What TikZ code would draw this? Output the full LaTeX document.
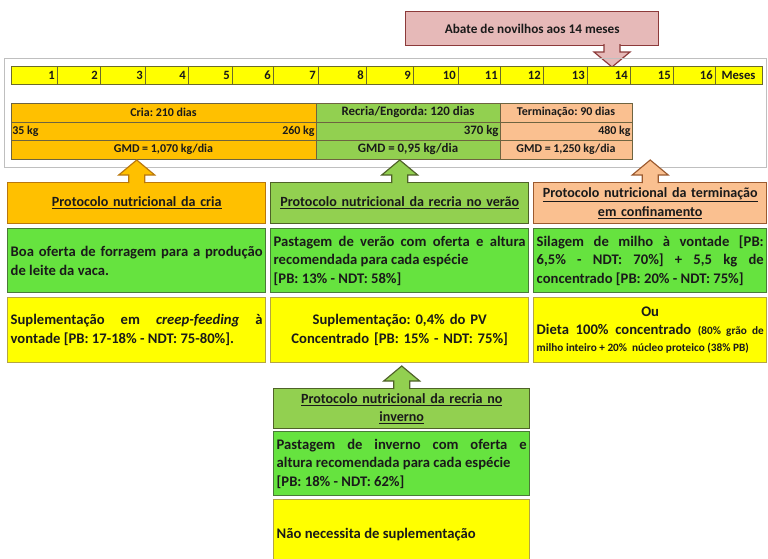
\documentclass[tikz,border=0pt]{standalone}
\usepackage{fontspec}
\setmainfont{Carlito}
\usepackage{tikz}
\definecolor{Ink}{HTML}{1A1A1A}
\definecolor{Yel}{HTML}{FFFF00}
\definecolor{YelLine}{HTML}{B5A642}
\definecolor{BarLine}{HTML}{6B6B2A}
\definecolor{Grass}{HTML}{66E33F}
\definecolor{GrassLine}{HTML}{4A7A38}
\definecolor{Olive}{HTML}{92D050}
\definecolor{OliveLine}{HTML}{4F6228}
\definecolor{Gold}{HTML}{FFC000}
\definecolor{GoldLine}{HTML}{B9770E}
\definecolor{Peach}{HTML}{FAC090}
\definecolor{PeachLine}{HTML}{9B5A2F}
\definecolor{Rose}{HTML}{E6B9B8}
\definecolor{RoseLine}{HTML}{8C3A3A}
\definecolor{Frame}{HTML}{BFBFBF}
\definecolor{CellLine}{HTML}{6E6440}
\hyphenpenalty=10000
\exhyphenpenalty=10000
\frenchspacing
% block arrow on a box: point, fill, border, 1 = up / -1 = down
\newcommand{\callarrow}[4]{%
  \filldraw[fill=#2,draw=#3,line width=1pt]
    (#1) ++(-8,#4) -- ++(0,-8*#4) -- ++(-10,0) -- ++(18,-15*#4)
    -- ++(18,15*#4) -- ++(-10,0) -- ++(0,8*#4);
}

\begin{document}
\begin{tikzpicture}[x=0.03cm,y=-0.03cm,
  box/.style={draw,line width=1.2pt,anchor=north west,inner xsep=0.09cm,
    inner ysep=0pt,text=Ink,font=\bfseries\fontsize{12.5}{16}\selectfont},
  wide/.style={text width=7.56cm,minimum width=7.74cm},
  narrow/.style={text width=6.81cm,minimum width=6.99cm},
  low/.style={text width=7.50cm,minimum width=7.68cm},
  hdr/.style={box,minimum height=1.23cm,align=center,font=\bfseries\fontsize{12}{16}\selectfont},
  pasto/.style={box,fill=Grass,draw=GrassLine,minimum height=1.92cm,align=justify},
  supl/.style={box,fill=Yel,draw=YelLine,minimum height=1.95cm,align=justify},
  month/.style={font=\bfseries\fontsize{10.8}{12}\selectfont,text=Ink,inner sep=0pt},
  cell/.style={font=\bfseries\fontsize{10.2}{12}\selectfont,text=Ink,inner sep=1pt},
  bigcell/.style={cell,font=\bfseries\fontsize{11}{12}\selectfont}]
  \clip (0,0) rectangle (768,558);

  % abate
  \node[box,fill=Rose,draw=RoseLine,minimum width=7.59cm,minimum height=1.02cm,
    align=center,font=\bfseries\fontsize{11.3}{13}\selectfont] (abate) at (405,11)
    {Abate de novilhos aos 14 meses};
  \coordinate (abatefoot) at (612,45);
  \callarrow{abatefoot}{Rose}{RoseLine}{-1}

  % linha do tempo
  \draw[Frame,line width=0.8pt] (4,58) rectangle (766,167);
  \draw[fill=Yel,draw=BarLine,line width=0.8pt] (11,66) rectangle (762,84);
  \foreach \xb [count=\m] in {57,100,145,188,232,273,318,366,413,458,500,543,587,630,673,715} {
    \draw[BarLine,line width=0.6pt] (\xb,66) -- (\xb,84);
    \node[month,anchor=east] (m\m) at (\xb-2,75) {\m};
  }
  \node[month] (meses) at (738.5,75) {Meses};

  % fases
  \foreach \xa/\xb/\col in {11/316/Gold,316/500/Olive,500/632/Peach} {
    \fill[\col] (\xa,103) rectangle (\xb,159);
    \draw[CellLine,line width=0.8pt] (\xa,103) rectangle (\xb,159)
      (\xa,122) -- (\xb,122) (\xa,140) -- (\xb,140);
  }
  \node[cell] (cria) at (163.5,112.5) {Cria: 210 dias};
  \node[cell,anchor=west] (pvA) at (11,131) {35 kg};
  \node[cell,anchor=east] (pvB) at (316,131) {260 kg};
  \node[cell] (gmdA) at (163.5,149.5) {GMD = 1,070 kg/dia};
  \node[bigcell] (recria) at (408,112.5) {Recria/Engorda: 120 dias};
  \node[bigcell,anchor=east] (pvC) at (500,131) {370 kg};
  \node[bigcell] (gmdB) at (408,149.5) {GMD = 0,95 kg/dia};
  \node[cell] (term) at (566,112.5) {Terminação: 90 dias};
  \node[cell,anchor=east] (pvD) at (632,131) {480 kg};
  \node[cell] (gmdC) at (566,149.5) {GMD = 1,250 kg/dia};

  % protocolos
  \node[hdr,wide,fill=Gold,draw=GoldLine] (hdrCria) at (7,182)
    {\underline{Protocolo nutricional da cria}};
  \node[hdr,wide,fill=Olive,draw=OliveLine] (hdrVerao) at (270,182)
    {\underline{Protocolo nutricional da recria no verão}};
  \node[hdr,narrow,fill=Peach,draw=PeachLine] (hdrTerm) at (533,182)
    {\underline{Protocolo nutricional da terminação}\\\underline{em confinamento}};
  \callarrow{hdrCria.north}{Gold}{GoldLine}{1}
  \callarrow{hdrVerao.north}{Olive}{OliveLine}{1}
  \callarrow{hdrTerm.north}{Peach}{PeachLine}{1}

  \node[pasto,wide] (pastCria) at (7,228)
    {Boa oferta de forragem para a produção\linebreak de leite da vaca.};
  \node[pasto,wide] (pastVerao) at (270,228)
    {Pastagem de verão com oferta e altura\linebreak recomendada para cada espécie\\{}%
     [PB: 13\% - NDT: 58\%]};
  \node[pasto,narrow] (silagem) at (533,228)
    {Silagem de milho à vontade [PB:\linebreak 6,5\% - NDT: 70\%] + 5,5 kg de\linebreak
     concentrado [PB: 20\% - NDT: 75\%]};

  \node[supl,wide] (supCria) at (7,297)
    {Suplementação em \textit{creep-feeding} à\linebreak vontade [PB: 17-18\% - NDT: 75-80\%].};
  \node[supl,wide,align=center] (supVerao) at (270,297)
    {Suplementação: 0,4\% do PV\\Concentrado [PB: 15\% - NDT: 75\%]};
  \node[supl,narrow,font=\bfseries\fontsize{12.5}{15}\selectfont] (dieta) at (533,297)
    {\hspace*{\fill}Ou\hspace*{\fill}\linebreak Dieta 100\% concentrado
     {\fontsize{9.6}{11}\selectfont (80\% grão de}\linebreak
     {\fontsize{9.6}{11}\selectfont milho inteiro + 20\%\ \ núcleo proteico (38\% PB)}};

  % inverno
  \node[hdr,low,fill=Olive,draw=OliveLine,minimum height=1.2cm] (hdrInverno) at (273,388)
    {\underline{Protocolo nutricional da recria no}\\\underline{inverno}};
  \callarrow{hdrInverno.north}{Olive}{OliveLine}{1}
  \node[pasto,low] (pastInverno) at (273,431)
    {Pastagem de inverno com oferta e\linebreak altura recomendada para cada espécie\\{}%
     [PB: 18\% - NDT: 62\%]};
  \node[supl,low,minimum height=2.07cm] (semSup) at (273,499)
    {Não necessita de suplementação};
\end{tikzpicture}
\end{document}
